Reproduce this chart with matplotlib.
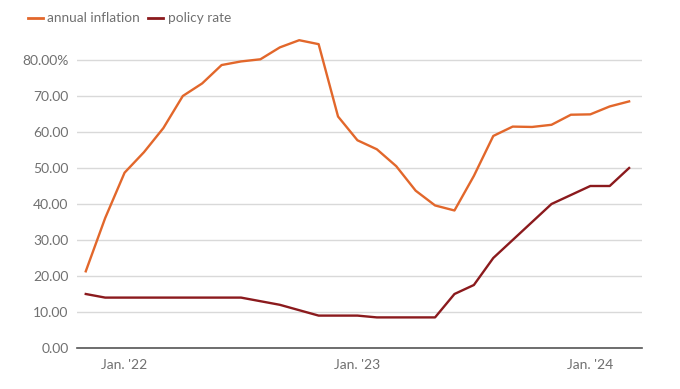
import matplotlib
matplotlib.use("Agg")
import matplotlib.pyplot as plt

# monthly, Nov 2021 .. Mar 2024
meses = ["2021-11", "2021-12", "2022-01", "2022-02", "2022-03", "2022-04", "2022-05",
         "2022-06", "2022-07", "2022-08", "2022-09", "2022-10", "2022-11", "2022-12",
         "2023-01", "2023-02", "2023-03", "2023-04", "2023-05", "2023-06", "2023-07",
         "2023-08", "2023-09", "2023-10", "2023-11", "2023-12", "2024-01", "2024-02",
         "2024-03"]
inflacion = [21.3, 36.1, 48.7, 54.4, 61.1, 70.0, 73.5, 78.6, 79.6, 80.2, 83.5, 85.5,
             84.4, 64.3, 57.7, 55.2, 50.5, 43.7, 39.6, 38.2, 47.8, 58.9, 61.5, 61.4,
             62.0, 64.8, 64.9, 67.1, 68.5]
tasa = [15, 14, 14, 14, 14, 14, 14, 14, 14, 13, 12, 10.5, 9, 9, 9, 8.5, 8.5, 8.5,
        8.5, 15, 17.5, 25, 30, 35, 40, 42.5, 45, 45, 50]
etiquetas_x = {"2022-01": "Jan. '22", "2023-01": "Jan. '23", "2024-01": "Jan. '24"}
yticks = [0, 10, 20, 30, 40, 50, 60, 70, 80]

NARANJA = "#e2672b"
GRANATE = "#8b1a1d"
GRIS = "#707070"

plt.rcParams["font.family"] = ["Lato", "DejaVu Sans"]

fig = plt.figure(figsize=(6.8, 3.89), dpi=100)
ax = fig.add_axes([0.113, 0.1054, 0.831, 0.8144])

x = list(range(len(meses)))
ax.plot(x, inflacion, color=NARANJA, lw=1.7, solid_joinstyle="round")
ax.plot(x, tasa, color=GRANATE, lw=1.7, solid_joinstyle="round")

ax.set_xlim(-0.46, 28.66)
ax.set_ylim(0, 88)

ax.set_yticks(yticks)
ax.set_yticklabels([f"{v:.2f}%" if v == 80 else f"{v:.2f}" for v in yticks])
pos = [meses.index(m) for m in etiquetas_x]
ax.set_xticks(pos)
ax.set_xticklabels(list(etiquetas_x.values()))

ax.grid(axis="y", color="#d9d9d9", lw=1)
ax.set_axisbelow(True)
for s in ["top", "right", "left"]:
    ax.spines[s].set_visible(False)
ax.spines["bottom"].set_color("#555555")
ax.spines["bottom"].set_linewidth(1.2)
ax.tick_params(axis="both", length=0, labelsize=10, colors=GRIS)
ax.tick_params(axis="y", pad=6)
ax.tick_params(axis="x", pad=8)

# leyenda arriba a la izquierda
fig.lines.append(plt.Line2D([0.041, 0.063], [0.953, 0.953], color=NARANJA, lw=2,
                            transform=fig.transFigure))
fig.text(0.069, 0.953, "annual inflation", color=GRIS, fontsize=9.8, va="center")
fig.lines.append(plt.Line2D([0.218, 0.240], [0.953, 0.953], color=GRANATE, lw=2,
                            transform=fig.transFigure))
fig.text(0.247, 0.953, "policy rate", color=GRIS, fontsize=9.8, va="center")

fig.savefig("out.png", dpi=100)
